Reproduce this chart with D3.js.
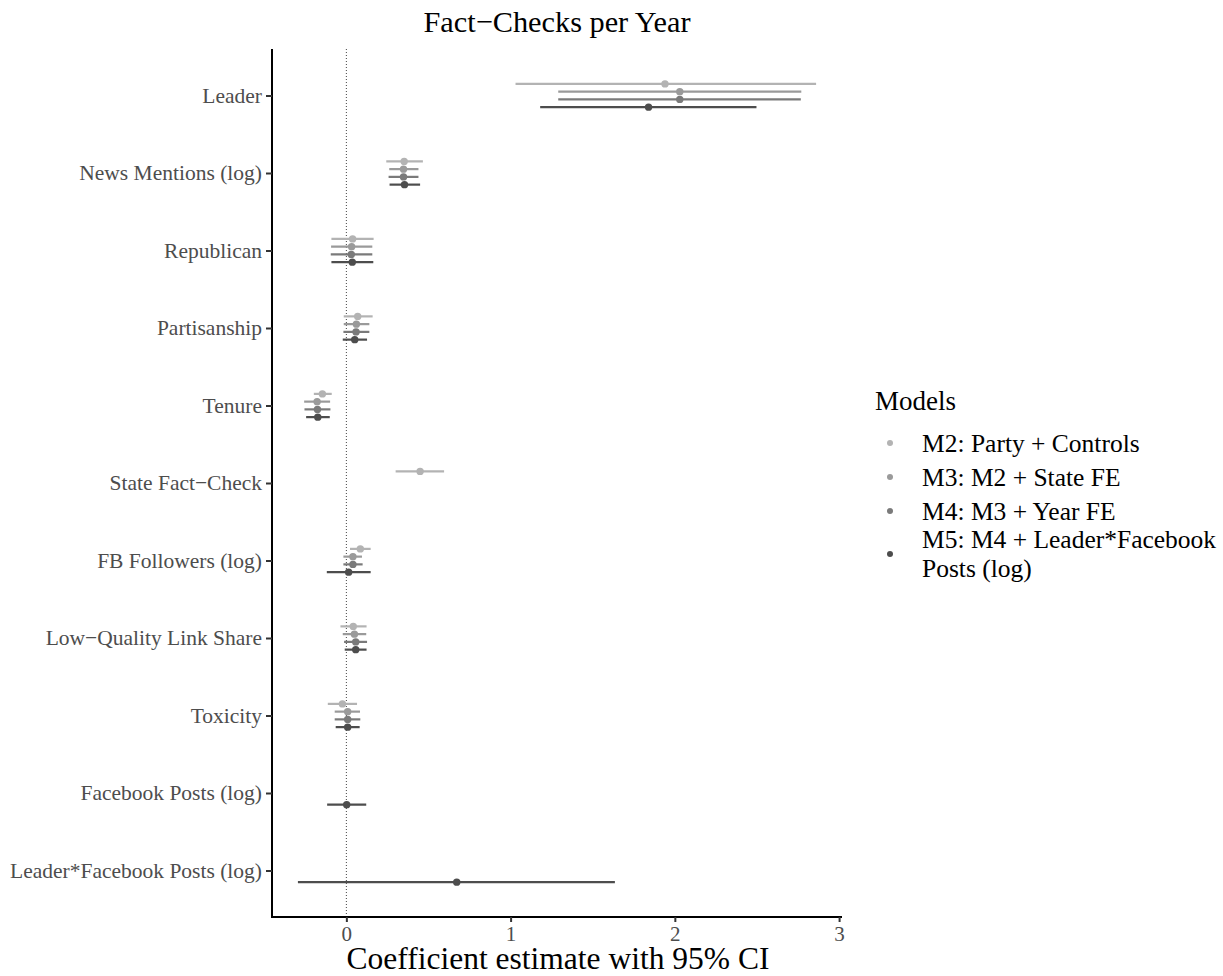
<!DOCTYPE html>
<html>
<head>
<meta charset="utf-8">
<script src="https://cdn.jsdelivr.net/npm/d3@7"></script>
<style>
  body { margin: 0; background: #fff; }
  svg { display: block; }
  svg text { font-family: "Liberation Serif", "Times New Roman", serif; }
</style>
</head>
<body>
<div id="chart"></div>
<script>
// terms, top to bottom
const terms = [
  'Leader', 'News Mentions (log)', 'Republican', 'Partisanship', 'Tenure',
  'State Fact\u2212Check', 'FB Followers (log)', 'Low\u2212Quality Link Share',
  'Toxicity', 'Facebook Posts (log)', 'Leader*Facebook Posts (log)'
];
const models = ['M2: Party + Controls', 'M3: M2 + State FE', 'M4: M3 + Year FE', 'M5: M4 + Leader*Facebook Posts (log)'];
const modelColors = ['#b3b3b3', '#9a9a9a', '#7a7a7a', '#4d4d4d'];

// estimates per model, in term order (null = not in model)
const m2Est = [1.94, 0.352, 0.038, 0.069, -0.146, 0.449, 0.085, 0.042, -0.024, null, null];
const m2Lo  = [1.03, 0.243, -0.091, -0.016, -0.198, 0.300, 0.022, -0.036, -0.113, null, null];
const m2Hi  = [2.86, 0.466, 0.166, 0.160, -0.089, 0.595, 0.148, 0.123, 0.065, null, null];

const m3Est = [2.03, 0.348, 0.032, 0.061, -0.178, null, 0.040, 0.049, 0.008, null, null];
const m3Lo  = [1.29, 0.261, -0.093, -0.016, -0.257, null, -0.018, -0.022, -0.071, null, null];
const m3Hi  = [2.77, 0.439, 0.158, 0.140, -0.099, null, 0.095, 0.121, 0.083, null, null];

const m4Est = [2.03, 0.348, 0.030, 0.059, -0.176, null, 0.040, 0.057, 0.008, null, null];
const m4Lo  = [1.29, 0.257, -0.095, -0.018, -0.255, null, -0.018, -0.014, -0.071, null, null];
const m4Hi  = [2.767, 0.439, 0.158, 0.140, -0.097, null, 0.099, 0.126, 0.085, null, null];

const m5Est = [1.84, 0.354, 0.036, 0.051, -0.174, null, 0.014, 0.057, 0.008, 0.002, 0.672];
const m5Lo  = [1.18, 0.263, -0.091, -0.022, -0.245, null, -0.119, -0.010, -0.065, -0.117, -0.295];
const m5Hi  = [2.497, 0.449, 0.164, 0.126, -0.101, null, 0.148, 0.123, 0.081, 0.121, 1.635];

const xTicks = [0, 1, 2, 3];

const est = [m2Est, m3Est, m4Est, m5Est];
const lo = [m2Lo, m3Lo, m4Lo, m5Lo];
const hi = [m2Hi, m3Hi, m4Hi, m5Hi];

const rows = [];
models.forEach((m, mi) => {
  terms.forEach((t, ti) => {
    if (est[mi][ti] != null) {
      rows.push({ model: m, mi, term: t, est: est[mi][ti], lo: lo[mi][ti], hi: hi[mi][ti] });
    }
  });
});

const W = 1223, H = 976;
const panel = { left: 272, top: 49, right: 842, bottom: 917 };
const serif = '"Liberation Serif", "Times New Roman", serif';

const svg = d3.select('#chart').append('svg')
  .attr('width', W).attr('height', H);

// x scale with ggplot-like 5% expansion
const xmin = d3.min(rows, d => d.lo), xmax = d3.max(rows, d => d.hi);
const pad = (xmax - xmin) * 0.05;
const x = d3.scaleLinear().domain([xmin - pad, xmax + pad]).range([panel.left, panel.right]);

const y = d3.scalePoint().domain(terms).range([panel.top, panel.bottom]).padding(0.6);
const step = y.step();
const dodge = d3.scalePoint().domain(models).range([-0.15 * step, 0.15 * step]);
const color = d3.scaleOrdinal().domain(models).range(modelColors);

// reference line at zero
svg.append('line')
  .attr('x1', x(0)).attr('x2', x(0))
  .attr('y1', panel.top).attr('y2', panel.bottom)
  .attr('stroke', '#444').attr('stroke-width', 1)
  .attr('stroke-dasharray', '1,2');

// error bars
svg.append('g').selectAll('line')
  .data(rows).join('line')
  .attr('x1', d => x(d.lo)).attr('x2', d => x(d.hi))
  .attr('y1', d => y(d.term) + dodge(d.model))
  .attr('y2', d => y(d.term) + dodge(d.model))
  .attr('stroke', d => color(d.model))
  .attr('stroke-width', 2.2);

// points
svg.append('g').selectAll('circle')
  .data(rows).join('circle')
  .attr('cx', d => x(d.est))
  .attr('cy', d => y(d.term) + dodge(d.model))
  .attr('r', 3.7)
  .attr('fill', d => color(d.model));

// x axis
const xAxis = svg.append('g')
  .attr('transform', `translate(0,${panel.bottom})`)
  .call(d3.axisBottom(x).tickValues(xTicks).tickFormat(d3.format('d')).tickSizeOuter(0).tickSize(5).tickPadding(4));
xAxis.select('.domain').attr('stroke', '#000').attr('stroke-width', 2)
  .attr('d', `M${panel.left - 1},0H${panel.right}`);
xAxis.selectAll('.tick line').attr('stroke', '#333').attr('stroke-width', 2);
xAxis.selectAll('.tick text')
  .attr('fill', '#4d4d4d').attr('font-size', 21)
  .attr('font-family', serif);

// y axis
const yAxis = svg.append('g')
  .attr('transform', `translate(${panel.left},0)`)
  .call(d3.axisLeft(y).tickSizeOuter(0).tickSize(6).tickPadding(4));
yAxis.select('.domain').attr('stroke', '#000').attr('stroke-width', 2)
  .attr('d', `M0,${panel.top}V${panel.bottom + 1}`);
yAxis.selectAll('.tick line').attr('stroke', '#333').attr('stroke-width', 2);
yAxis.selectAll('.tick text')
  .attr('fill', '#4d4d4d').attr('font-size', 21.5)
  .attr('font-family', serif);

// title
svg.append('text')
  .attr('x', (panel.left + panel.right) / 2).attr('y', 32)
  .attr('text-anchor', 'middle').attr('font-size', 30.3).attr('fill', '#000')
  .attr('font-family', serif)
  .text('Fact\u2212Checks per Year');

// x axis title
svg.append('text')
  .attr('x', (panel.left + panel.right) / 2 + 1).attr('y', 969)
  .attr('text-anchor', 'middle').attr('font-size', 31.5).attr('fill', '#000')
  .attr('font-family', serif)
  .text('Coefficient estimate with 95% CI');

// legend
const legend = svg.append('g').attr('transform', 'translate(875,0)');
legend.append('text')
  .attr('x', 0).attr('y', 410)
  .attr('font-size', 27).attr('fill', '#000')
  .attr('font-family', serif)
  .text('Models');

const legendY = [443, 477, 511, 554];
const legendLines = [['M2: Party + Controls'], ['M3: M2 + State FE'], ['M4: M3 + Year FE'], ['M5: M4 + Leader*Facebook', 'Posts (log)']];
const items = legend.selectAll('g.item')
  .data(models).join('g').attr('class', 'item')
  .attr('transform', (d, i) => `translate(0,${legendY[i]})`);
items.append('circle')
  .attr('cx', 15).attr('cy', 0).attr('r', 3)
  .attr('fill', d => color(d));
items.each(function (d, i) {
  const lines = legendLines[i];
  const t = d3.select(this).append('text')
    .attr('x', 47).attr('font-size', 25.5).attr('fill', '#000')
    .attr('font-family', serif);
  lines.forEach((ln, j) => {
    t.append('tspan')
      .attr('x', 47)
      .attr('y', (j - (lines.length - 1) / 2) * 29 + 8.5)
      .text(ln);
  });
});
</script>
</body>
</html>
